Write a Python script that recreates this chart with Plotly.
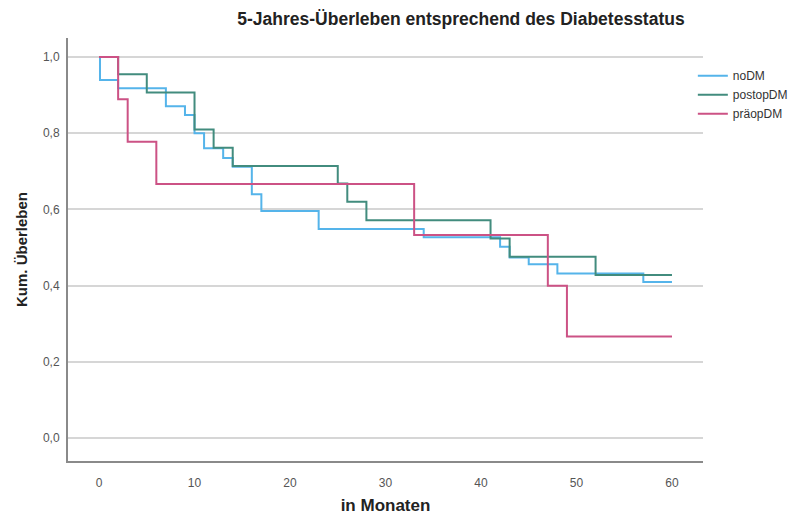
import plotly.graph_objects as go

# Kaplan-Meier step data (months, cumulative survival)
nodm_t = [0, 0.1, 2, 7, 9, 10, 11, 13, 14, 16, 17, 23, 34, 42, 43, 45, 48, 57, 60]
nodm_s = [1.0, 0.94, 0.918, 0.871, 0.848, 0.80, 0.761, 0.735, 0.712, 0.64, 0.596, 0.549,
          0.527, 0.502, 0.474, 0.456, 0.432, 0.41, 0.41]

postop_t = [0, 2, 5, 10, 12, 14, 25, 26, 28, 41, 43, 52, 60]
postop_s = [1.0, 0.955, 0.907, 0.81, 0.762, 0.714, 0.668, 0.62, 0.572, 0.524, 0.476, 0.428, 0.428]

praeop_t = [0, 2, 3, 6, 33, 47, 49, 60]
praeop_s = [1.0, 0.889, 0.778, 0.667, 0.533, 0.4, 0.267, 0.267]

series_names = ["noDM", "postopDM", "präopDM"]
colors = ["#55b4ea", "#428c7e", "#cc5285"]

x_ticks = [0, 10, 20, 30, 40, 50, 60]
y_ticks = [0.0, 0.2, 0.4, 0.6, 0.8, 1.0]

fig = go.Figure()
for name, t, s, c in zip(series_names, [nodm_t, postop_t, praeop_t],
                         [nodm_s, postop_s, praeop_s], colors):
    fig.add_trace(go.Scatter(x=t, y=s, mode="lines", name=name,
                             line=dict(color=c, width=2, shape="hv")))

fig.update_layout(
    width=799, height=515,
    paper_bgcolor="white", plot_bgcolor="white",
    margin=dict(l=68, r=96, t=38, b=54, autoexpand=False),
    separators=",.",
    font=dict(family="Liberation Sans, Arial, sans-serif", color="#222"),
    title=dict(text="<b>5-Jahres-Überleben entsprechend des Diabetesstatus</b>",
               x=461 / 799, xanchor="center", xref="container",
               y=1 - 19 / 515, yanchor="middle", yref="container",
               font=dict(size=17.5, color="#222")),
    showlegend=True,
    legend=dict(x=0.984, xref="paper", xanchor="left", y=0.945,
                yanchor="top", font=dict(size=12, color="#333"),
                bgcolor="rgba(0,0,0,0)", tracegroupgap=0, itemwidth=30),
)

fig.update_xaxes(
    range=[-3.25, 63.25], tickvals=x_ticks, showgrid=False, zeroline=False,
    showline=True, linecolor="#8a8a8a", linewidth=2, ticks="",
    tickfont=dict(size=12, color="#555"), ticklabelstandoff=10,
    title=dict(text="<b>in Monaten</b>", font=dict(size=17, color="#222"), standoff=15),
)
fig.update_yaxes(
    range=[-0.06, 1.05], tickvals=y_ticks, tickformat=".1f", showgrid=True,
    gridcolor="#d6d6d6", gridwidth=2, zeroline=False,
    showline=True, linecolor="#8a8a8a", linewidth=2, ticks="",
    tickfont=dict(size=12, color="#555"), ticklabelstandoff=4,
    title=dict(text="<b>Kum. Überleben</b>", font=dict(size=15, color="#222"), standoff=12),
)

fig.write_html("out.html", config={"displayModeBar": False},
               post_script="document.body.style.margin='0';")
